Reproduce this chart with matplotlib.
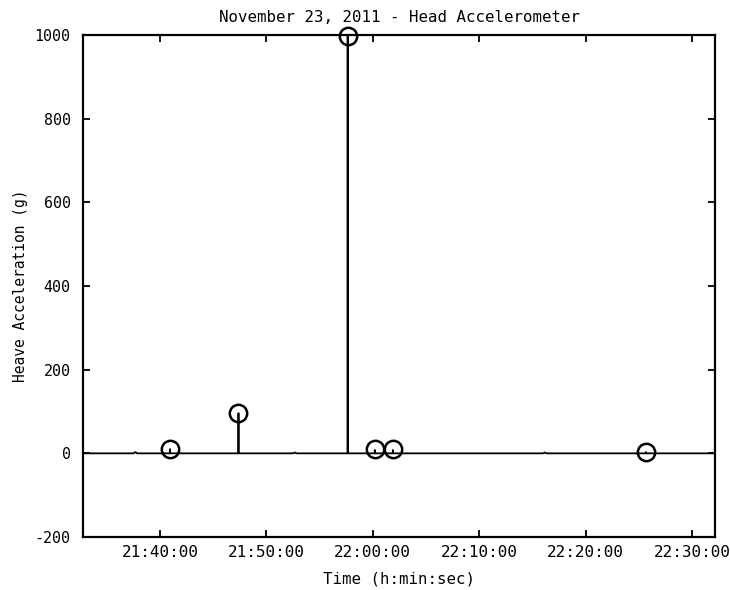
import datetime as dt
import matplotlib
matplotlib.use('Agg')
import matplotlib.pyplot as plt
import matplotlib.dates as mdates

# Head accelerometer trace, November 23, 2011
DAY = dt.date(2011, 11, 23)

trace_times = ["21:32:45", "21:37:30", "21:37:40", "21:37:50", "21:40:55", "21:40:56",
               "21:40:57", "21:47:21", "21:47:22", "21:47:23",
               "21:52:30", "21:52:40", "21:52:50", "21:57:37", "21:57:38", "21:57:39", "22:00:10",
               "22:00:11", "22:00:12", "22:01:52", "22:01:53", "22:01:54", "22:16:00",
               "22:16:10", "22:16:20", "22:25:39", "22:25:40", "22:25:41", "22:32:10"]
trace_values = [0, 0, 3, 0, 0, 10,
                0, 0, 96, 0,
                0, 2, 0, 0, 997, 0, 0,
                8, 0, 0, 8, 0, 0,
                2, 0, 0, 3, 0, 0]

# Detected impact peaks
peak_times = ["21:40:56", "21:47:22", "21:57:38", "22:00:11", "22:01:53", "22:25:40"]
peak_values = [10, 96, 997, 10, 10, 3]

x_ticks = ["21:40:00", "21:50:00", "22:00:00", "22:10:00", "22:20:00", "22:30:00"]
y_ticks = [-200, 0, 200, 400, 600, 800, 1000]


def to_dt(s):
    return dt.datetime.combine(DAY, dt.datetime.strptime(s, "%H:%M:%S").time())


plt.rcParams['font.family'] = ['DejaVu Sans Mono']
plt.rcParams['axes.unicode_minus'] = False

fig = plt.figure(figsize=(7.3, 5.9), dpi=100)
ax = fig.add_axes([0.1137, 0.0898, 0.8658, 0.8509])

ax.plot([to_dt(t) for t in trace_times], trace_values, color='black', lw=1.3)
ax.plot([to_dt(t) for t in peak_times], peak_values, 'o', ms=12.5, mfc='none',
        mec='black', mew=1.8, clip_on=False)

ax.set_xlim(to_dt("21:32:45"), to_dt("22:32:10"))
ax.set_ylim(-200, 1000)
ax.set_xticks([to_dt(t) for t in x_ticks])
ax.xaxis.set_major_formatter(mdates.DateFormatter("%H:%M:%S"))
ax.set_yticks(y_ticks)

ax.tick_params(direction='in', length=5, width=1.3, top=True, right=True,
               colors='black')
ax.tick_params(axis='x', labelsize=11.5, pad=6)
ax.tick_params(axis='y', labelsize=10.8, pad=9)
for sp in ax.spines.values():
    sp.set_linewidth(1.6)

ax.set_title("November 23, 2011 - Head Accelerometer", fontsize=11.3, pad=9)
ax.set_xlabel("Time (h:min:sec)", fontsize=11.3, labelpad=8)
ax.set_ylabel("Heave Acceleration (g)", fontsize=10.5, labelpad=5)

plt.savefig('out.png', dpi=100)
